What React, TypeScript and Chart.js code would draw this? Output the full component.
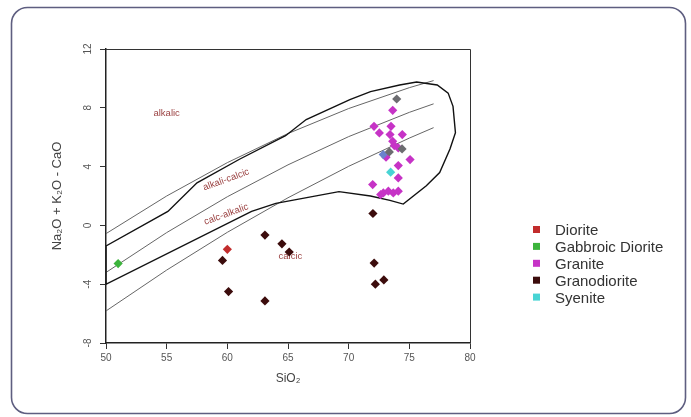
import React, { useEffect, useRef } from 'react';
import { Chart, registerables } from 'chart.js';

Chart.register(...registerables);

// ---- Axis ranges / ticks ----
const xMin = 50, xMax = 80, xStep = 5;
const yMin = -8, yMax = 12, yStep = 4;

// ---- Sample series (SiO2, Na2O+K2O-CaO) ----
const diorite: [number, number][] = [[60.0, -1.63]];
const gabbroicDiorite: [number, number][] = [[51.0, -2.6]];
const granite: [number, number][] = [
  [73.63, 7.83], [72.09, 6.74], [72.53, 6.29], [73.49, 6.74], [73.41, 6.18],
  [74.42, 6.18], [73.63, 5.72], [73.76, 5.43], [74.09, 5.27], [73.08, 4.64],
  [75.06, 4.48], [74.09, 4.07], [74.09, 3.23], [71.98, 2.78], [72.86, 2.21],
  [73.27, 2.33], [73.68, 2.21], [74.09, 2.33], [72.64, 2.1],
];
const granodiorite: [number, number][] = [
  [59.6, -2.38], [60.1, -4.5], [63.1, -0.66], [64.5, -1.25], [65.1, -1.81],
  [63.1, -5.14], [72.0, 0.81], [72.1, -2.56], [72.2, -4.0], [72.9, -3.71],
];
const syenite: [number, number][] = [[73.46, 3.62]];
const overlapGray: [number, number][] = [[73.96, 8.6], [73.35, 5.0], [74.4, 5.2]];
const overlapBlue: [number, number][] = [[72.85, 4.82]];

// ---- Boundary lines ----
const lineAlkalic: [number, number][] = [[50, -0.56], [55, 2.0], [60, 4.27], [65, 6.25], [70, 7.95], [75, 9.37], [77, 9.85]];
const lineAlkaliCalcic: [number, number][] = [[50, -3.2], [55, -0.49], [60, 1.95], [65, 4.12], [70, 6.04], [75, 7.69], [77, 8.27]];
const lineCalcAlkalic: [number, number][] = [[50, -5.82], [55, -3.04], [60, -0.47], [65, 1.88], [70, 4.02], [75, 5.94], [77, 6.65]];
const granitoidField: [number, number][] = [
  [50, -1.4], [55.1, 0.95], [57.5, 2.9], [61, 4.5], [64.8, 6.1], [66.5, 7.2],
  [70.1, 8.55], [71.8, 9.1], [74.2, 9.55], [75.6, 9.75], [77.3, 9.55], [78.2, 9.0],
  [78.6, 8.1], [78.8, 6.3], [78.35, 5.2], [77.5, 3.6], [76.4, 2.7], [74.5, 1.45],
  [73.4, 1.7], [71.8, 2.0], [69.2, 2.3], [64, 1.5], [62, 0.95], [50, -4.0], [50, -1.4],
];

// ---- Region labels ----
const regionLabels = ['alkalic', 'alkali-calcic', 'calc-alkalic', 'calcic'];
const regionLabelX = [55, 59.9, 59.9, 65.2];
const regionLabelY = [7.65, 3.1, 0.75, -2.1];
const regionLabelAngle = [0, -20, -20, 0];

// ---- Legend ----
const legendLabels = ['Diorite', 'Gabbroic Diorite', 'Granite', 'Granodiorite', 'Syenite'];
const legendColors = ['#c22c2c', '#3cb43c', '#c633c6', '#3c0c0c', '#48d4d4'];

const FONT = 'Arial, "Liberation Sans", sans-serif';

const toXY = (arr: [number, number][]) => arr.map(([x, y]) => ({ x, y }));

const decorPlugin = {
  id: 'decor',
  beforeDraw(chart: any) {
    const ctx = chart.ctx;
    ctx.save();
    ctx.fillStyle = '#ffffff';
    ctx.fillRect(0, 0, chart.width, chart.height);
    ctx.strokeStyle = '#5e5e80';
    ctx.lineWidth = 1.6;
    ctx.beginPath();
    (ctx as any).roundRect(11.5, 7.5, 674, 406, 16);
    ctx.stroke();
    ctx.restore();
  },
  beforeDatasetsDraw(chart: any) {
    const ctx = chart.ctx;
    const xs = chart.scales.x, ys = chart.scales.y;
    ctx.save();
    ctx.fillStyle = '#9c4444';
    ctx.font = `9.5px ${FONT}`;
    ctx.textAlign = 'center';
    ctx.textBaseline = 'middle';
    regionLabels.forEach((t, i) => {
      ctx.save();
      ctx.translate(xs.getPixelForValue(regionLabelX[i]), ys.getPixelForValue(regionLabelY[i]));
      ctx.rotate((regionLabelAngle[i] * Math.PI) / 180);
      ctx.fillText(t, 0, 0);
      ctx.restore();
    });
    ctx.restore();
  },
  afterDraw(chart: any) {
    const ctx = chart.ctx;
    const a = chart.chartArea;
    ctx.save();
    ctx.strokeStyle = '#333';
    ctx.lineWidth = 1;
    ctx.beginPath();
    ctx.moveTo(a.left, a.top + 0.5);
    ctx.lineTo(a.right + 0.5, a.top + 0.5);
    ctx.lineTo(a.right + 0.5, a.bottom);
    ctx.stroke();
    // legend
    ctx.font = `15px ${FONT}`;
    ctx.textBaseline = 'middle';
    ctx.textAlign = 'left';
    legendLabels.forEach((t, i) => {
      const cy = 229.5 + i * 16.9;
      ctx.fillStyle = legendColors[i];
      ctx.fillRect(533, cy - 3.5, 7, 7);
      ctx.fillStyle = '#333';
      ctx.fillText(t, 555, cy + 1.5);
    });
    ctx.restore();
  },
};

export default function App() {
  const ref = useRef<HTMLCanvasElement | null>(null);
  useEffect(() => {
    if (!ref.current) return;
    Chart.defaults.font.family = FONT;
    const pts = (label: string, data: [number, number][], color: string) => ({
      label,
      data: toXY(data),
      backgroundColor: color,
      borderColor: color,
      borderWidth: 0,
      pointStyle: 'rectRot',
      pointRadius: 4.6,
      showLine: false,
    });
    const ln = (label: string, data: [number, number][], color: string, width: number) => ({
      label,
      data: toXY(data),
      borderColor: color,
      borderWidth: width,
      pointRadius: 0,
      showLine: true,
      fill: false,
      tension: 0,
    });
    const chart = new Chart(ref.current, {
      type: 'scatter',
      data: {
        datasets: [
          pts('overlap', overlapGray, '#6c6c70'),
          pts('overlap2', overlapBlue, '#6a82cc'),
          pts(legendLabels[4], syenite, legendColors[4]),
          pts(legendLabels[0], diorite, legendColors[0]),
          pts(legendLabels[1], gabbroicDiorite, legendColors[1]),
          pts(legendLabels[3], granodiorite, legendColors[3]),
          pts(legendLabels[2], granite, legendColors[2]),
          ln('field', granitoidField, '#111', 1.4),
          ln('b1', lineAlkalic, '#666', 1),
          ln('b2', lineAlkaliCalcic, '#666', 1),
          ln('b3', lineCalcAlkalic, '#666', 1),
        ] as any,
      },
      options: {
        responsive: false,
        animation: false,
        layout: { padding: { top: 49, right: 221, bottom: 0, left: 0 } },
        plugins: { legend: { display: false }, tooltip: { enabled: false } },
        scales: {
          x: {
            type: 'linear',
            min: xMin,
            max: xMax,
            ticks: { stepSize: xStep, maxRotation: 0, padding: 3, color: '#555', font: { size: 10, family: FONT } },
            grid: { display: true, drawOnChartArea: false, drawTicks: true, tickLength: 6, color: '#333' },
            border: { display: true, color: '#222', width: 1.5 },
            title: { display: true, text: 'SiO₂', color: '#444', font: { size: 12, family: FONT }, padding: { top: 0, bottom: 31 } },
            afterFit: (s: any) => { s.height = 74; },
          },
          y: {
            type: 'linear',
            min: yMin,
            max: yMax,
            ticks: { stepSize: yStep, minRotation: 90, maxRotation: 90, crossAlign: 'center', padding: 6, color: '#555', font: { size: 10, family: FONT } },
            grid: { display: true, drawOnChartArea: false, drawTicks: true, tickLength: 6, color: '#333' },
            border: { display: true, color: '#222', width: 1.5 },
            title: { display: true, text: 'Na₂O + K₂O - CaO', color: '#444', font: { size: 13, family: FONT }, padding: { top: 50, bottom: 0 } },
            afterFit: (s: any) => { s.width = 106; },
          },
        },
      } as any,
      plugins: [decorPlugin],
    });
    return () => chart.destroy();
  }, []);
  return (
    <div style={{ position: 'absolute', left: 0, top: 0, width: 691, height: 417 }}>
      <canvas ref={ref} width={691} height={417} style={{ width: 691, height: 417, display: 'block' }} />
    </div>
  );
}
